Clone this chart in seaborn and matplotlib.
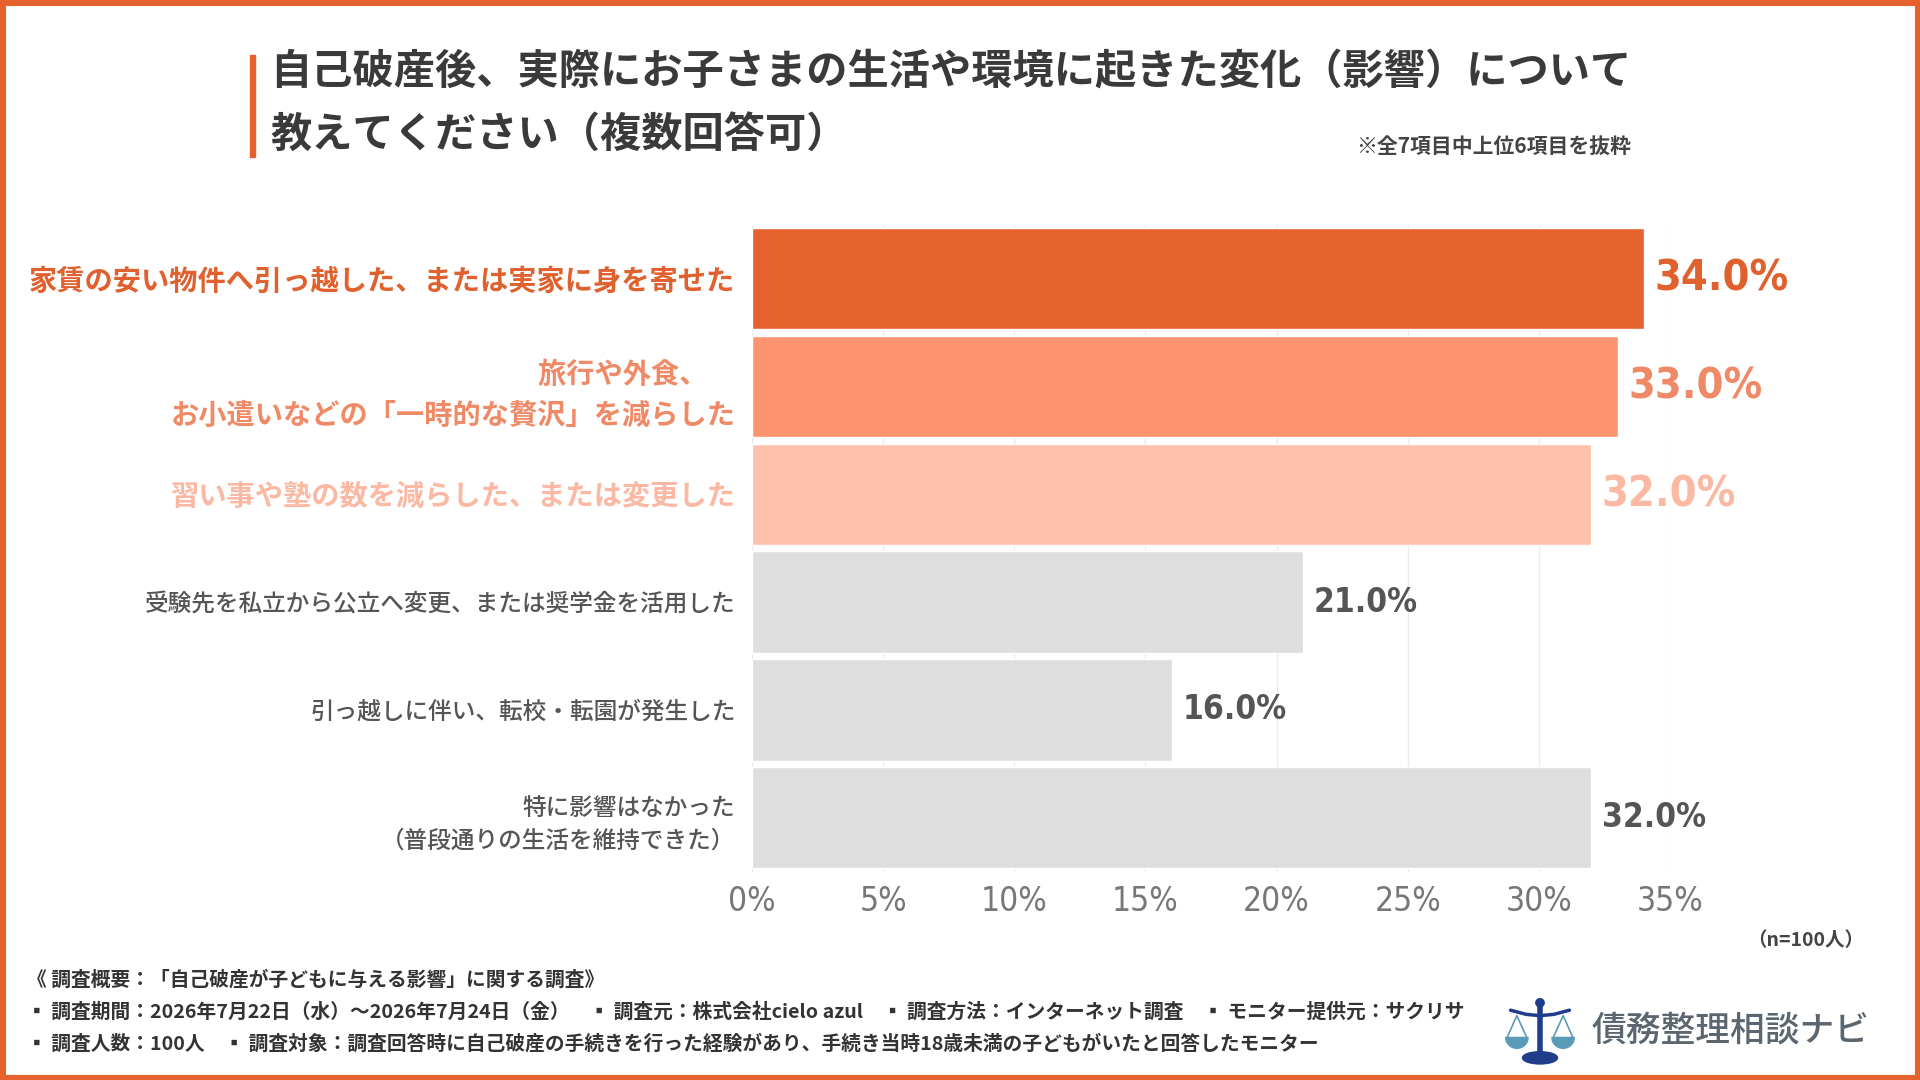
import pandas as pd
import matplotlib.pyplot as plt
import matplotlib.patches as patches
import seaborn as sns

# Data
categories = [
    "家賃の安い物件へ引っ越した、または実家に身を寄せた",
    "旅行や外食、　\nお小遣いなどの「一時的な贅沢」を減らした",
    "習い事や塾の数を減らした、または変更した",
    "受験先を私立から公立へ変更、または奨学金を活用した",
    "引っ越しに伴い、転校・転園が発生した",
    "特に影響はなかった\n（普段通りの生活を維持できた）",
]
values = [34.0, 33.0, 32.0, 21.0, 16.0, 32.0]
bar_colors = ["#E5622F", "#FF9470", "#FFC1AB", "#DEDEDE", "#DEDEDE", "#DEDEDE"]
text_colors = ["#E0602E", "#F08A66", "#FBB8A2", "#555555", "#555555", "#555555"]
xticks = [0, 5, 10, 15, 20, 25, 30, 35]

title_lines = ["自己破産後、実際にお子さまの生活や環境に起きた変化（影響）について",
               "教えてください（複数回答可）"]
note = "※全7項目中上位6項目を抜粋"
sample = "（n=100人）"
footer = [
    "《 調査概要：「自己破産が子どもに与える影響」に関する調査》",
    "▪ 調査期間：2026年7月22日（水）～2026年7月24日（金）　▪ 調査元：株式会社cielo azul　▪ 調査方法：インターネット調査　▪ モニター提供元：サクリサ",
    "▪ 調査人数：100人　▪ 調査対象：調査回答時に自己破産の手続きを行った経験があり、手続き当時18歳未満の子どもがいたと回答したモニター",
]
logo_text = "債務整理相談ナビ"

df = pd.DataFrame({"item": categories, "pct": values})

sns.set_theme(style="white")
jp = ["Noto Sans CJK JP", "DejaVu Sans"]
num = ["DejaVu Sans"]
plt.rcParams["font.family"] = jp

fig = plt.figure(figsize=(19.2, 10.8), dpi=100)
ax = fig.add_axes([0.3917, 0.193, 0.8698 - 0.3917, 0.792 - 0.193])

sns.barplot(data=df, y="item", x="pct", hue="item", palette=bar_colors,
            legend=False, width=0.94, saturation=1, ax=ax, zorder=2)

ax.set_xlim(0, 35)
ax.set_ylim(5.5, -0.5)
ax.set_xticks(xticks)
ax.set_xticklabels([f"{t}%" for t in xticks], family=num, fontstretch="condensed",
                   fontsize=24, color="#777777")
ax.tick_params(axis="x", length=0, pad=10)
ax.tick_params(axis="y", length=0, pad=12)
ax.grid(axis="x", color="#EBEBEB", linewidth=1, zorder=0)
ax.set_axisbelow(True)
for s in ax.spines.values():
    s.set_visible(False)
ax.set_xlabel("")
ax.set_ylabel("")

# category labels
ax.set_yticks(range(len(categories)))
ax.set_yticklabels(categories)
for i, lab in enumerate(ax.get_yticklabels()):
    lab.set_color(text_colors[i])
    lab.set_horizontalalignment("right")
    lab.set_multialignment("right")
    if i < 3:
        lab.set_fontsize(20.3)
        lab.set_fontweight("bold")
    else:
        lab.set_fontsize(17)
        lab.set_fontweight("medium")
    lab.set_linespacing(1.55)

# value labels
for i, v in enumerate(values):
    big = i < 3
    ax.text(v + 0.4, i, f"{v:.1f}%", va="center", ha="left",
            family=num, fontstretch="condensed", fontweight="bold",
            fontsize=31 if big else 24, color=text_colors[i], clip_on=False)

# title block
fig.patches.append(patches.Rectangle((250 / 1920, 1 - 157 / 1080), 5 / 1920, 102 / 1080,
                                     transform=fig.transFigure, color="#E5622F"))
for k, line in enumerate(title_lines):
    fig.text(270 / 1920, 1 - (72 + k * 63) / 1080, line, fontsize=29.7,
             fontweight="bold", color="#3A3A3A", va="center", ha="left")
fig.text(1631 / 1920, 1 - 146 / 1080, note, fontsize=15, fontweight="bold",
         color="#444444", va="center", ha="right")
fig.text(1864 / 1920, 1 - 941 / 1080, sample, fontsize=14, fontweight="bold",
         color="#444444", va="center", ha="right")

# footer
for k, line in enumerate(footer):
    fig.text(27 / 1920, 1 - (980 + k * 32) / 1080, line, fontsize=14.2,
             fontweight="bold", color="#333333", va="center", ha="left")

# logo
lax = fig.add_axes([1505 / 1920, 1 - 1066 / 1080, 70 / 1920, 68 / 1080])
lax.set_xlim(0, 10)
lax.set_ylim(0, 10)
lax.axis("off")
navy = "#1F3D8A"
teal = "#5A9BB8"
lax.plot([5, 5], [2, 9], color=navy, lw=4, solid_capstyle="round")
lax.add_patch(patches.Circle((5, 9.3), 0.6, color=navy))
lax.plot([0.8, 3, 5, 7, 9.2], [8.2, 7.6, 7.4, 7.6, 8.2], color=navy, lw=2.5)
lax.add_patch(patches.Ellipse((5, 1.2), 5, 1.8, color=navy))
for cx in (1.7, 8.3):
    lax.plot([cx - 1.4, cx, cx + 1.4], [4.2, 7.4, 4.2], color=teal, lw=1.2)
    lax.add_patch(patches.Wedge((cx, 4.2), 1.6, 180, 360, color=teal))
fig.text(1592 / 1920, 1 - 1031 / 1080, logo_text, fontsize=25, fontweight="medium",
         color="#5C6670", va="center", ha="left")

# frame
fig.patches.append(patches.Rectangle((0, 0), 1, 1, transform=fig.transFigure,
                                     fill=False, edgecolor="#E5622F", linewidth=8))

fig.savefig("out.png", dpi=100)
